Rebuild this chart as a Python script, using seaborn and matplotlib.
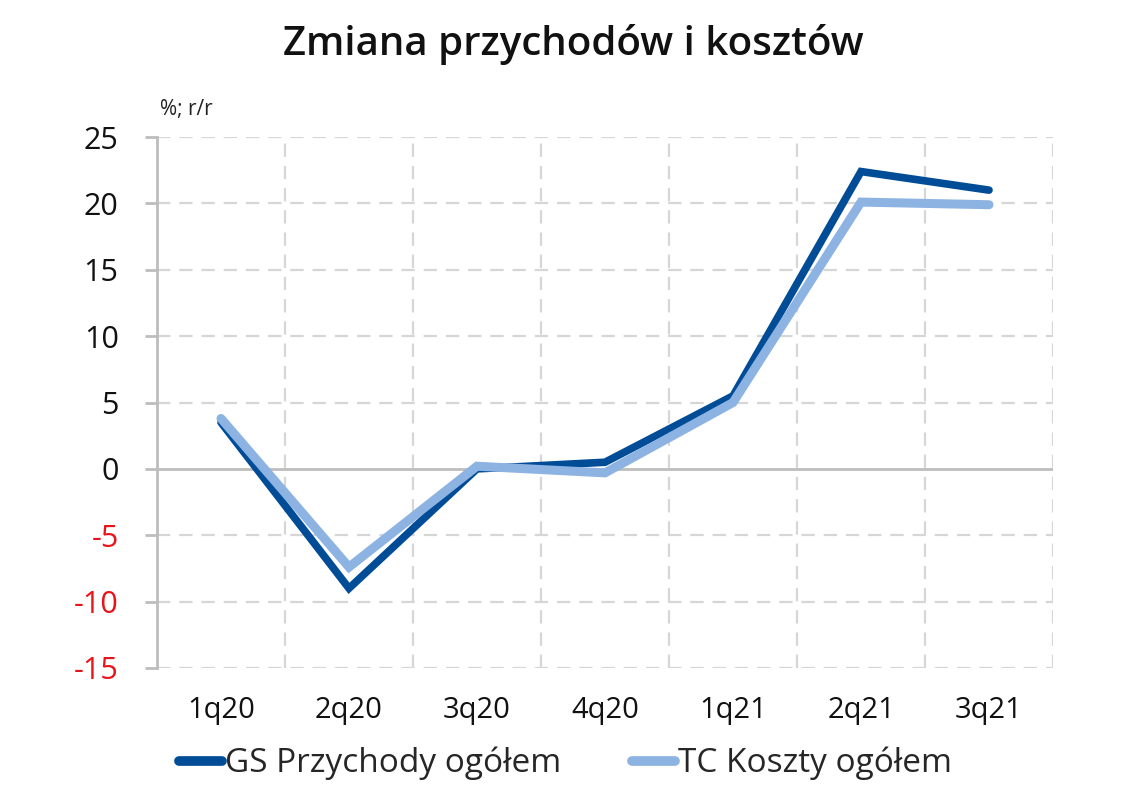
import matplotlib
matplotlib.use("Agg")
import matplotlib.pyplot as plt
import seaborn as sns
import pandas as pd

categories = ["1q20", "2q20", "3q20", "4q20", "1q21", "2q21", "3q21"]
gs_przychody = [3.5, -9.0, 0.0, 0.5, 5.5, 22.4, 21.0]
tc_koszty = [3.8, -7.4, 0.2, -0.3, 5.0, 20.1, 19.9]
series_names = ["GS Przychody ogółem", "TC Koszty ogółem"]
y_ticks = [-15, -10, -5, 0, 5, 10, 15, 20, 25]

sns.set_theme(style="white")
plt.rcParams['font.family'] = ['Open Sans', 'DejaVu Sans']

df = pd.DataFrame({
    "kwartał": categories * 2,
    "wartość": gs_przychody + tc_koszty,
    "seria": [series_names[0]] * len(categories) + [series_names[1]] * len(categories),
})
df["kwartał"] = pd.Categorical(df["kwartał"], categories=categories, ordered=True)
df["pos"] = df["kwartał"].cat.codes

fig = plt.figure(figsize=(11.4, 7.88), dpi=100)
ax = fig.add_axes([0.1377, 0.1523, 0.786, 0.6738])

palette = {series_names[0]: "#004C97", series_names[1]: "#8DB3E2"}
sns.lineplot(data=df[df["seria"] == series_names[0]], x="pos", y="wartość", color=palette[series_names[0]],
             lw=5.5, ax=ax, label=series_names[0], solid_capstyle="round", solid_joinstyle="miter", zorder=3)
sns.lineplot(data=df[df["seria"] == series_names[1]], x="pos", y="wartość", color=palette[series_names[1]],
             lw=6.5, ax=ax, label=series_names[1], solid_capstyle="round", solid_joinstyle="miter", zorder=4)

ax.set_xlim(-0.5, len(categories) - 0.5)
ax.set_ylim(-15, 25)
ax.set_yticks(y_ticks)
ax.set_yticklabels([str(v) for v in y_ticks])
ax.set_xticks(range(len(categories)))
ax.set_xticklabels(categories)
ax.set_xlabel("")
ax.set_ylabel("")

# grid
grid_c = "#D6D6D6"
dash = (0, (6, 4))
for v in y_ticks:
    if v == 0:
        ax.axhline(0, color="#BDBDBD", lw=2, zorder=2)
    else:
        ax.axhline(v, color=grid_c, lw=1.6, ls=dash, zorder=1)
for b in range(len(categories) - 1):
    ax.axvline(b + 0.5, color=grid_c, lw=1.6, ls=dash, zorder=1)
ax.axvline(len(categories) - 0.5, color=grid_c, lw=1.6, ls=dash, zorder=1)

for s in ["top", "right", "bottom"]:
    ax.spines[s].set_visible(False)
ax.spines["left"].set_color("#BDBDBD")
ax.spines["left"].set_linewidth(2)

ax.tick_params(axis="y", which="major", left=True, length=8.6, width=2, color="#BDBDBD",
               labelsize=22, pad=19, labelcolor="#111111")
ax.tick_params(axis="x", which="major", bottom=False, labelsize=21, pad=14, labelcolor="#111111")
for lbl, v in zip(ax.get_yticklabels(), y_ticks):
    if v < 0:
        lbl.set_color("#E8141B")

fig.text(0.503, 0.943, "Zmiana przychodów i kosztów", ha="center", va="center",
         fontsize=29, fontweight="semibold", color="#111111")
fig.text(0.140, 0.861, "%; r/r", ha="left", va="center", fontsize=15, color="#222222")

leg = ax.legend(loc="upper center", bbox_to_anchor=(0.456, -0.092), ncol=2, frameon=False,
                fontsize=24, handlelength=1.3, columnspacing=2.1, handletextpad=0.1)
for h in leg.get_lines():
    h.set_linewidth(7)

fig.savefig("out.png", dpi=100)
